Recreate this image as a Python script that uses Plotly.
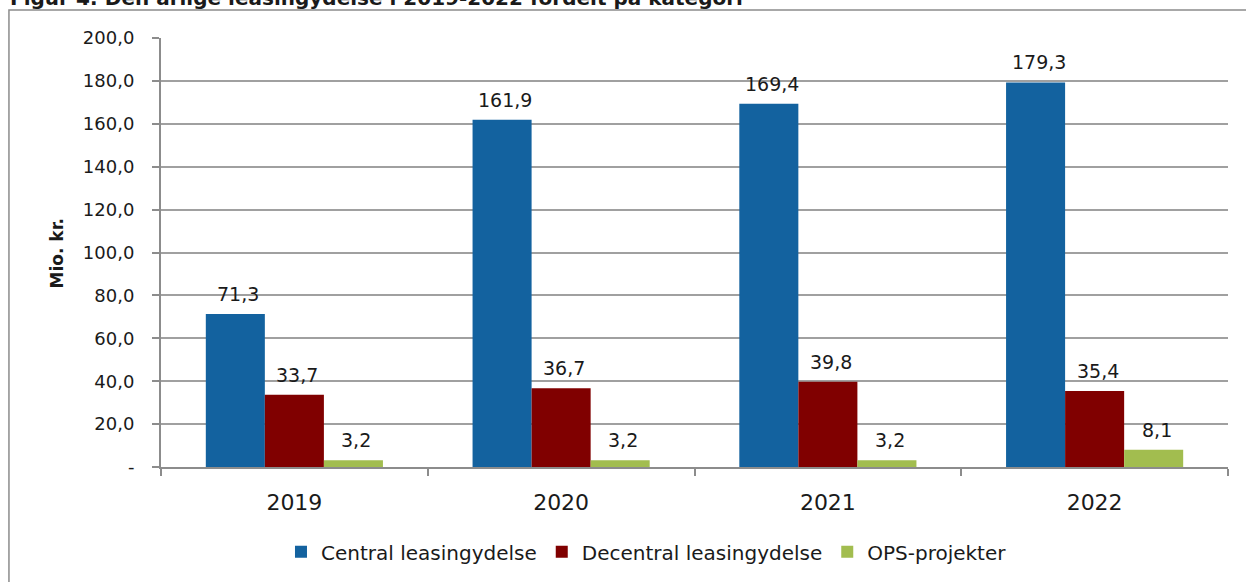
import plotly.graph_objects as go

years = ["2019", "2020", "2021", "2022"]
central = [71.3, 161.9, 169.4, 179.3]
decentral = [33.7, 36.7, 39.8, 35.4]
ops = [3.2, 3.2, 3.2, 8.1]

series = [
    ("Central leasingydelse", central, "#13629F"),
    ("Decentral leasingydelse", decentral, "#800000"),
    ("OPS-projekter", ops, "#A2BD4F"),
]

y_ticks = [0, 20, 40, 60, 80, 100, 120, 140, 160, 180, 200]
y_ticktext = ["-" if v == 0 else f"{v:.1f}".replace(".", ",") for v in y_ticks]

FONT = "DejaVu Sans"
INK = "#1a1a1a"
GRID = "#a0a0a0"
AXIS = "#8c8c8c"

fig = go.Figure()
for name, vals, col in series:
    fig.add_trace(go.Bar(
        x=years, y=vals, name=name,
        marker=dict(color=col, line=dict(width=0)),
    ))

# value labels above each bar (x given as category index; numeric-looking
# category names would otherwise be read as indices)
bar_px = 59
for i, (name, vals, col) in enumerate(series):
    for j, v in enumerate(vals):
        fig.add_annotation(
            x=j, y=v, xref="x", yref="y",
            text=f"{v:.1f}".replace(".", ","),
            showarrow=False, xanchor="center", yanchor="bottom",
            xshift=(i - 1) * bar_px + 3, yshift=7,
            font=dict(family=FONT, size=19, color=INK),
        )

fig.add_annotation(
    text="<b>Mio. kr.</b>", xref="paper", yref="paper",
    x=-0.0975, y=0.5, xanchor="center", yanchor="middle",
    textangle=-90, showarrow=False,
    font=dict(family=FONT, size=17, color=INK),
)

fig.add_annotation(
    text="<b>Figur 4: Den årlige leasingydelse i 2019-2022 fordelt på kategori</b>",
    xref="paper", yref="paper", x=-0.1435, y=1.094,
    xanchor="left", yanchor="middle", showarrow=False,
    font=dict(family=FONT, size=20, color=INK),
)

# outer frame
fig.add_shape(
    type="rect", xref="paper", yref="paper",
    x0=-0.1425, x1=1.05, y0=-0.4, y1=1.0651,
    line=dict(color=AXIS, width=1.5), layer="below",
)

fig.update_layout(
    width=1246, height=582,
    margin=dict(l=161, r=18, t=38, b=114),
    paper_bgcolor="white", plot_bgcolor="white",
    barmode="group", bargap=0.336, bargroupgap=0,
    font=dict(family=FONT, size=18, color=INK),
    showlegend=True,
    legend=dict(
        orientation="h", x=0.455, xanchor="center", y=-0.195, yanchor="middle",
        font=dict(family=FONT, size=20, color=INK),
        itemwidth=30, traceorder="normal",
    ),
)
fig.update_xaxes(
    type="category", range=[-0.5, len(years) - 0.5],
    showline=True, linecolor=AXIS, linewidth=2,
    ticks="outside", tickson="boundaries", ticklen=7, tickcolor=AXIS, tickwidth=2,
    ticklabelstandoff=15, tickfont=dict(size=22), showgrid=False,
)
fig.update_yaxes(
    range=[0, 200], tickvals=y_ticks, ticktext=y_ticktext,
    showline=True, linecolor=AXIS, linewidth=2,
    ticks="outside", ticklen=7, tickcolor=AXIS, tickwidth=2,
    ticklabelstandoff=14, tickfont=dict(size=18),
    showgrid=True, gridcolor=GRID, gridwidth=1.5, zeroline=False,
)

# drop the browser's default 8px body margin so the figure sits at (0, 0)
fig.write_html(
    "out.html",
    config={"displayModeBar": False},
    post_script="document.body.style.margin='0';",
)
